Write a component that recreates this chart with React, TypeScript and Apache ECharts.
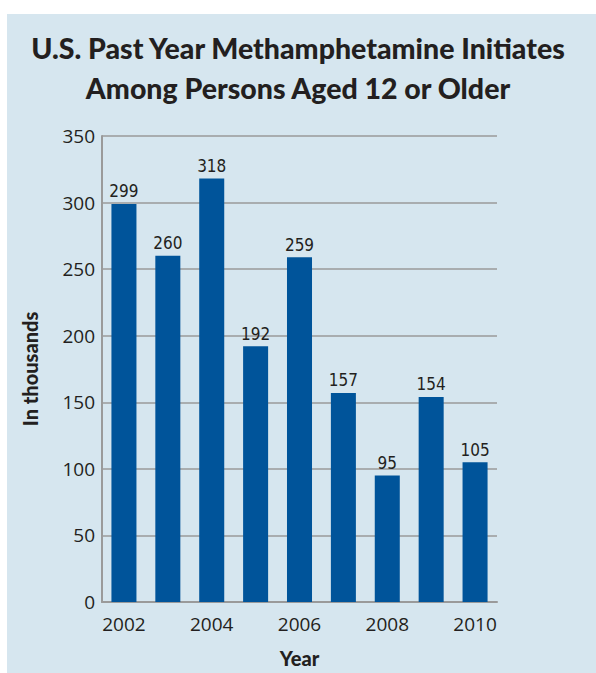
import React, { useEffect, useRef } from "react";
import * as echarts from "echarts";

const years = ["2002", "2003", "2004", "2005", "2006", "2007", "2008", "2009", "2010"];
const initiates = [299, 260, 318, 192, 259, 157, 95, 154, 105];
const titleLines = ["U.S. Past Year Methamphetamine Initiates", "Among Persons Aged 12 or Older"];
const yAxisName = "In thousands";
const xAxisName = "Year";

export default function App() {
  const ref = useRef<HTMLDivElement>(null);
  useEffect(() => {
    document.body.style.margin = "0";
    const chart = echarts.init(ref.current!, null, { renderer: "svg" });
    const textColor = "#231f20";
    chart.setOption({
      animation: false,
      backgroundColor: "#ffffff",
      graphic: [
        {
          type: "rect",
          left: 7,
          top: 14,
          z: -10,
          shape: { width: 589, height: 659 },
          style: { fill: "#d6e6ef" },
          silent: true,
        },
      ],
      title: {
        text: titleLines.join("\n"),
        left: "center",
        top: 23,
        textStyle: {
          fontFamily: "Lato",
          fontWeight: 900,
          fontSize: 28.5,
          lineHeight: 40,
          color: textColor,
        },
      },
      grid: { left: 102, right: 99, top: 136, bottom: 64, containLabel: false },
      xAxis: {
        type: "category",
        data: years,
        name: xAxisName,
        nameLocation: "middle",
        nameGap: 46,
        nameTextStyle: { fontFamily: "Lato", fontWeight: 900, fontSize: 20, color: textColor },
        axisLine: { lineStyle: { color: "#9a9a9a", width: 2 } },
        axisTick: { show: false },
        axisLabel: {
          interval: 1,
          fontFamily: "Open Sans",
          fontSize: 19,
          color: textColor,
          margin: 12,
        },
      },
      yAxis: {
        type: "value",
        min: 0,
        max: 350,
        interval: 50,
        name: yAxisName,
        nameLocation: "middle",
        nameGap: 62,
        nameRotate: 90,
        nameTextStyle: { fontFamily: "Lato", fontWeight: 900, fontSize: 20, color: textColor },
        axisLine: { show: true, lineStyle: { color: "#9a9a9a", width: 2 } },
        axisTick: { show: false },
        axisLabel: { fontFamily: "Open Sans", fontSize: 19, color: textColor, margin: 7 },
        splitLine: { lineStyle: { color: "#9a9a9a", width: 1.5 } },
      },
      series: [
        {
          type: "bar",
          data: initiates,
          barCategoryGap: "43%",
          itemStyle: { color: "#00549a" },
          label: {
            show: true,
            position: "top",
            distance: 4,
            fontFamily: "'DejaVu Sans Condensed', Roboto, sans-serif",
            fontSize: 17,
            color: textColor,
          },
        },
      ],
    });
    return () => chart.dispose();
  }, []);
  return <div ref={ref} style={{ width: 596, height: 673 }} />;
}
